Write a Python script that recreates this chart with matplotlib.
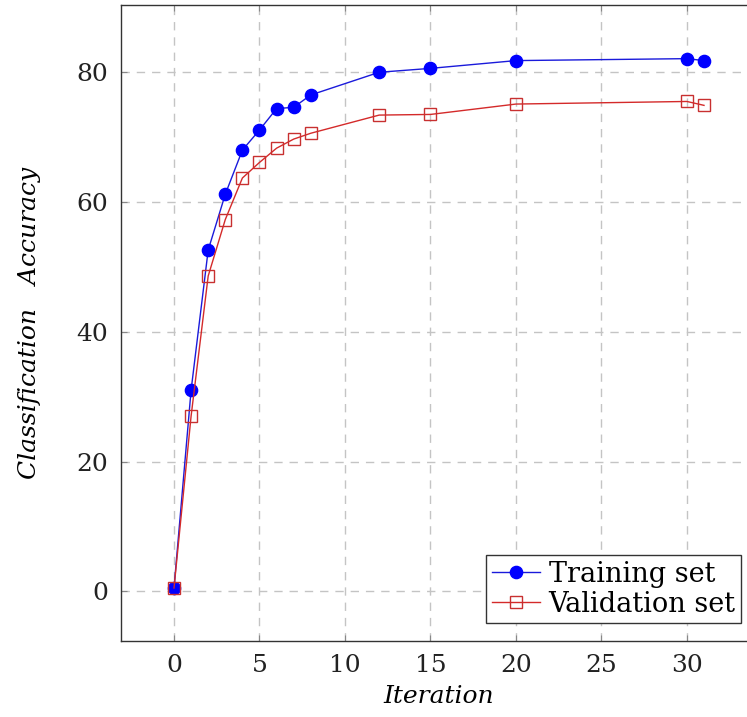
import matplotlib
matplotlib.use("Agg")
import matplotlib.pyplot as plt

# data
iterations = [0, 1, 2, 3, 4, 5, 6, 7, 8, 12, 15, 20, 30, 31]
train_acc = [0.5, 31.0, 52.6, 61.2, 68.0, 71.1, 74.4, 74.6, 76.5, 80.0, 80.6, 81.8, 82.1, 81.8]
valid_acc = [0.5, 27.0, 48.6, 57.3, 63.7, 66.1, 68.3, 69.7, 70.6, 73.4, 73.5, 75.1, 75.5, 74.9]
xticks = [0, 5, 10, 15, 20, 25, 30]
yticks = [0, 20, 40, 60, 80]

plt.rcParams["font.family"] = "DejaVu Serif"
plt.rcParams["mathtext.fontset"] = "dejavuserif"

fig = plt.figure(figsize=(7.47, 7.17), dpi=100)
ax = fig.add_axes([121 / 747, 1 - 641 / 717, 636 / 747, 636 / 717])

ax.plot(iterations, train_acc, color="#1a1adb", lw=1.0, marker="o", ms=8.8,
        mfc="#0000ff", mec="#0000ff", label="Training set", zorder=3)
ax.plot(iterations, valid_acc, color="#d42a2a", lw=1.0, marker="s", ms=8,
        mfc="none", mec="#c83030", mew=1.0, label="Validation set", zorder=3)

ax.set_xlim(-3.1, 34.1)
ax.set_ylim(-7.67, 90.37)
ax.set_xticks(xticks)
ax.set_yticks(yticks)
ax.grid(True, color="#c4c4c4", linestyle=(0, (6, 5)), lw=1.0)
ax.tick_params(direction="in", length=4, color="#888888", labelsize=18,
               labelcolor="#222222", top=True, right=True, pad=9)
for spine in ax.spines.values():
    spine.set_color("#333333")
    spine.set_linewidth(1.0)

ax.set_xlabel("Iteration", fontsize=18, style="italic", labelpad=6)
ax.set_ylabel("Classification   Accuracy", fontsize=18, style="italic", labelpad=26)

ax.legend(loc="lower right", bbox_to_anchor=(741 / 747, 1 - 623 / 717),
          bbox_transform=fig.transFigure, fontsize=19.5, fancybox=False,
          edgecolor="#333333", framealpha=1.0, handlelength=1.8,
          handletextpad=0.3, borderpad=0.2, labelspacing=0.1,
          borderaxespad=0)

fig.savefig("out.png", dpi=100)
